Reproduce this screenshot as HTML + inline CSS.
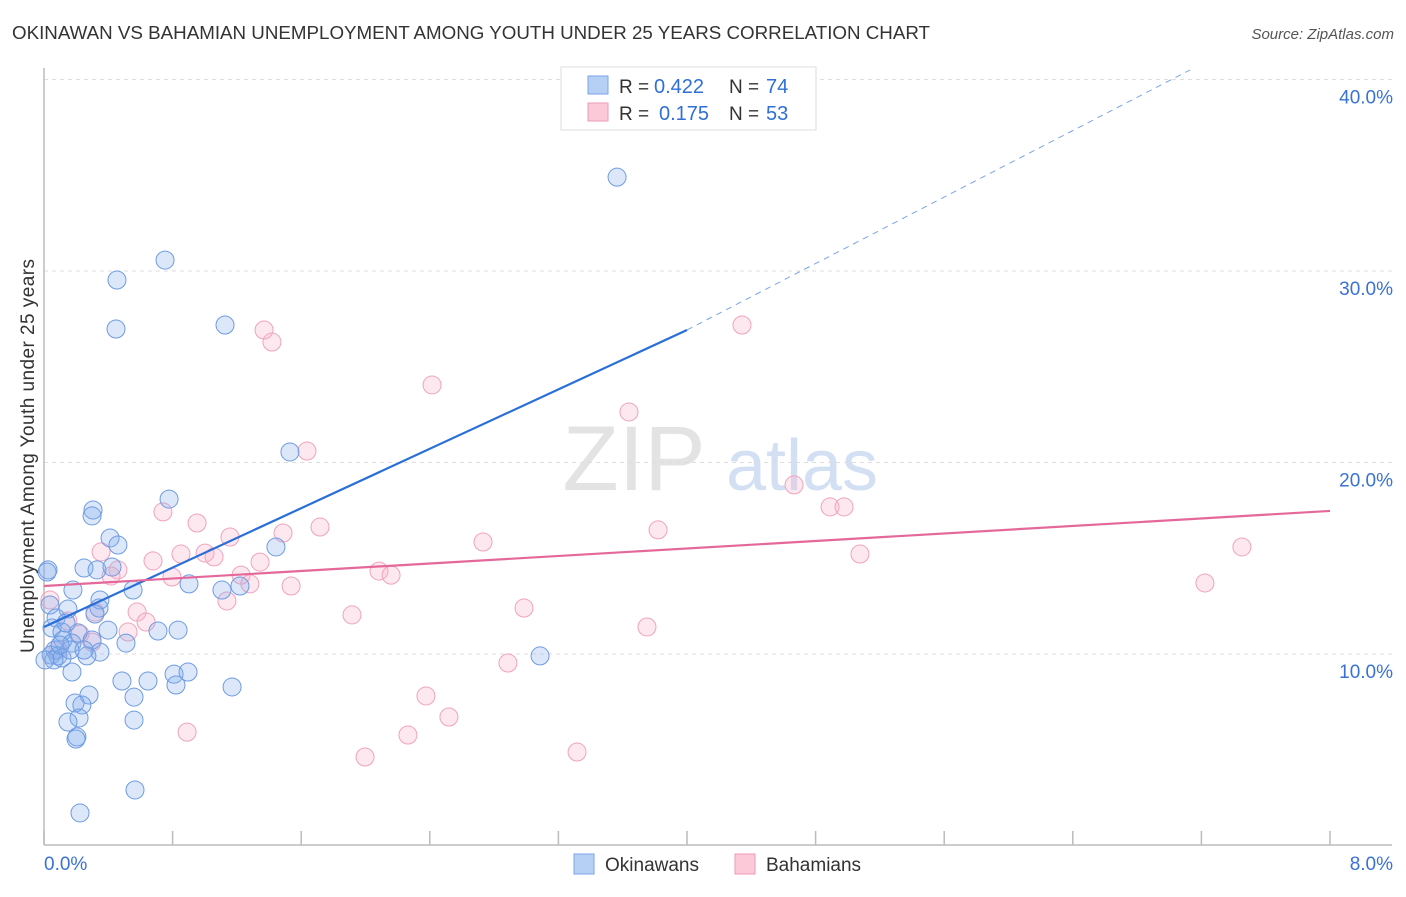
<!DOCTYPE html>
<html><head><meta charset="utf-8"><style>
body{margin:0;background:#fff;font-family:"Liberation Sans",sans-serif}
svg text{font-family:"Liberation Sans",sans-serif}
</style></head><body>
<svg width="1406" height="892" viewBox="0 0 1406 892">
<text x="12" y="39" font-size="18" fill="#333" textLength="918" lengthAdjust="spacingAndGlyphs">OKINAWAN VS BAHAMIAN UNEMPLOYMENT AMONG YOUTH UNDER 25 YEARS CORRELATION CHART</text>
<text x="1394" y="39" font-size="15" fill="#555" font-style="italic" text-anchor="end">Source: ZipAtlas.com</text>
<g><text x="634" y="490" font-size="92" fill="#ddd" font-family="Liberation Serif" text-anchor="middle" opacity="0.8">ZIP</text><text x="802" y="490" font-size="72" fill="#c9d9f2" text-anchor="middle" opacity="0.8">atlas</text></g>
<g id="grid"></g><g id="axes"></g><g id="pts"></g><g id="lines"></g>
<text transform="translate(34,456) rotate(-90)" font-size="19" fill="#333" text-anchor="middle" textLength="394">Unemployment Among Youth under 25 years</text>
<g>
<rect x="561" y="67" width="255" height="63" fill="#fff" stroke="#ddd"/>
<rect x="588" y="76" width="20" height="18" fill="#b5cff5" stroke="#7aa5e8"/>
<rect x="588" y="103" width="20" height="18" fill="#fbc9d8" stroke="#ee9ab4"/>
<text x="619" y="93" font-size="19" fill="#333">R =</text>
<text x="654" y="93" font-size="20" fill="#2f6fd6">0.422</text>
<text x="729" y="93" font-size="19" fill="#333">N =</text>
<text x="766" y="93" font-size="20" fill="#2f6fd6">74</text>
<text x="619" y="120" font-size="19" fill="#333">R =</text>
<text x="659" y="120" font-size="20" fill="#2f6fd6">0.175</text>
<text x="729" y="120" font-size="19" fill="#333">N =</text>
<text x="766" y="120" font-size="20" fill="#2f6fd6">53</text>
</g>
<g>
<rect x="574" y="854" width="20" height="20" fill="#b5cff5" stroke="#7aa5e8"/>
<text x="605" y="871" font-size="19" fill="#333">Okinawans</text>
<rect x="735" y="854" width="20" height="20" fill="#fbc9d8" stroke="#ee9ab4"/>
<text x="766" y="871" font-size="19" fill="#333">Bahamians</text>
</g>
</svg>
<script>
const xTicks=[0,0.8,1.6,2.4,3.2,4.0,4.8,5.6,6.4,7.2,8.0];
const yTicks=[10,20,30,40];
const yTickLabels=["10.0%","20.0%","30.0%","40.0%"];
const blueX=[3.565,0.753,0.454,0.448,1.126,1.53,0.778,0.305,0.299,0.411,0.46,1.443,0.025,0.249,0.33,0.423,0.902,0.554,0.18,1.107,1.219,0.348,0.342,0.037,0.149,0.075,0.317,0.05,0.112,0.398,0.709,0.834,0.212,0.118,0.174,0.299,0.348,0.51,0.068,0.044,0.087,0.112,0.267,0.062,0.174,3.086,0.809,0.896,0.485,0.647,0.821,1.17,0.28,0.56,0.193,0.236,0.218,0.56,0.149,0.205,0.199,0.566,0.224,0.019,0.137,0.162,0.249,0.1,0.006];
const blueY=[34.9,30.57,29.53,26.97,27.18,20.55,18.09,17.52,17.21,16.06,15.69,15.59,14.39,14.49,14.39,14.54,13.66,13.34,13.34,13.34,13.55,12.82,12.4,12.56,12.35,11.88,12.09,11.36,11.15,11.25,11.2,11.25,11.1,10.73,10.57,10.73,10.1,10.57,10.21,9.95,9.9,9.79,9.9,9.69,9.06,9.9,8.95,9.06,8.59,8.59,8.38,8.28,7.86,7.75,7.44,7.34,6.66,6.55,6.45,5.67,5.56,2.9,1.7,14.28,11.62,10.21,10.21,10.47,9.69];
const pinkX=[4.342,1.369,1.418,2.414,3.639,1.636,4.666,4.89,4.977,0.74,0.952,1.717,3.82,1.157,1.487,2.731,7.452,0.355,0.852,1.002,1.058,5.076,0.678,1.344,0.46,0.417,0.796,1.226,2.084,2.159,1.281,1.537,7.222,1.138,0.579,2.986,1.916,0.635,0.523,3.751,0.149,0.224,0.299,0.317,2.886,2.376,2.519,0.89,2.264,3.316,1.997,0.037,0.087];
const pinkY=[27.18,26.92,26.29,24.05,22.64,20.6,18.83,17.68,17.68,17.42,16.84,16.63,16.48,16.11,16.32,15.85,15.59,15.33,15.22,15.27,15.07,15.22,14.86,14.8,14.39,14.07,14.02,14.12,14.33,14.12,13.66,13.55,13.71,12.77,12.19,12.4,12.04,11.67,11.15,11.41,11.72,11.04,10.62,12.19,9.53,7.81,6.71,5.92,5.77,4.88,4.62,12.82,10.21];
const blueTrend=[[0,11.41],[4.0,26.92],[7.13,40.5]];
const pinkTrend=[[0,13.55],[8,17.47]];
const X=v=>44+v*160.75, Y=v=>845.5-v*19.15;
const NS="http://www.w3.org/2000/svg";
function mk(t,a,p){const e=document.createElementNS(NS,t);for(const k in a)e.setAttribute(k,a[k]);p.appendChild(e);return e;}
const grid=document.getElementById('grid'),axes=document.getElementById('axes'),pts=document.getElementById('pts'),lines=document.getElementById('lines');
yTicks.forEach((v,i)=>{
 const l=mk('line',{x1:44,x2:1392,y1:Y(v),y2:Y(v),stroke:'#ddd','stroke-dasharray':'4,4'},grid);
 
 
 const t=mk('text',{x:1393,y:Y(v)+24,'font-size':19,fill:'#3a72d4','text-anchor':'end'},axes);
 t.textContent=yTickLabels[i];
 
 
});
const ax=mk('line',{x1:44,x2:44,y1:68,y2:845,stroke:'#bbb','stroke-width':1.5},axes);


const bx=mk('line',{x1:44,x2:1392,y1:845,y2:845,stroke:'#bbb','stroke-width':1.5},axes);


xTicks.forEach(v=>{
 const t=mk('line',{x1:X(v),x2:X(v),y1:831,y2:845,stroke:'#bbb','stroke-width':1.5},axes);
 
 
});
const xl0=mk('text',{x:44,y:870,'font-size':19,fill:'#3a72d4'},axes);xl0.textContent='0.0%';


const xl1=mk('text',{x:1393,y:870,'font-size':19,fill:'#3a72d4','text-anchor':'end'},axes);xl1.textContent='8.0%';


pinkX.forEach((v,i)=>{
 const c=mk('circle',{cx:X(v),cy:Y(pinkY[i]),r:9,fill:'rgba(248,180,202,0.3)',stroke:'#f0a3bc','stroke-width':1},pts);
 
 
});
blueX.forEach((v,i)=>{
 const c=mk('circle',{cx:X(v),cy:Y(blueY[i]),r:9,fill:'rgba(130,172,238,0.28)',stroke:'#6d9be3','stroke-width':1},pts);
 
 
});
const b1=mk('line',{x1:X(blueTrend[0][0]),y1:Y(blueTrend[0][1]),x2:X(blueTrend[1][0]),y2:Y(blueTrend[1][1]),stroke:'#2a6fd8','stroke-width':2.2},lines);


const b2=mk('line',{x1:X(blueTrend[1][0]),y1:Y(blueTrend[1][1]),x2:X(blueTrend[2][0]),y2:Y(blueTrend[2][1]),stroke:'#7aa5e8','stroke-width':1,'stroke-dasharray':'6,5'},lines);


const p1=mk('line',{x1:X(pinkTrend[0][0]),y1:Y(pinkTrend[0][1]),x2:X(pinkTrend[1][0]),y2:Y(pinkTrend[1][1]),stroke:'#e4689a','stroke-width':2.2},lines);


</script>
</body></html>
